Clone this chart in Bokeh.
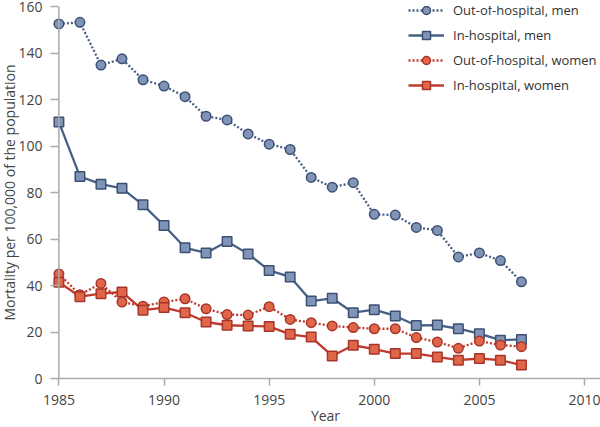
from bokeh.plotting import figure
from bokeh.models import Range1d, SingleIntervalTicker, Legend, LegendItem, Span, Title
from bokeh.embed import file_html
from bokeh.resources import INLINE

years = list(range(1985, 2008))
out_men = [152.5, 153.2, 134.8, 137.5, 128.5, 125.8, 121.2, 112.8, 111.2, 105.2, 100.8, 98.5,
           86.5, 82.3, 84.2, 70.6, 70.3, 65.0, 63.7, 52.3, 54.0, 50.7, 41.6]
in_men = [110.3, 86.9, 83.6, 81.8, 74.7, 65.8, 56.2, 54.0, 58.9, 53.6, 46.5, 43.7,
          33.3, 34.5, 28.3, 29.6, 26.9, 22.8, 23.0, 21.4, 19.3, 16.5, 16.8]
out_women = [45.0, 36.0, 40.9, 32.9, 31.1, 32.9, 34.3, 30.0, 27.5, 27.3, 30.9, 25.4,
             24.0, 22.6, 21.9, 21.4, 21.4, 17.6, 15.7, 13.0, 16.1, 14.4, 13.7]
in_women = [41.4, 35.2, 36.5, 37.2, 29.4, 30.5, 28.3, 24.3, 22.9, 22.6, 22.4, 19.0,
            17.8, 9.7, 14.3, 12.6, 10.7, 10.7, 9.3, 7.9, 8.6, 7.9, 5.8]
labels = ["Out-of-hospital, men", "In-hospital, men", "Out-of-hospital, women", "In-hospital, women"]
x_title = "Year"
y_title = "Mortality per 100,000 of the population"

FONT = "Open Sans"
TXT = "#444444"
MEN_LINE = "#465f84"
MEN_FILL = "#8094b7"
MEN_EDGE = "#3b5073"
W_LINE = "#c0392b"
W_FILL = "#e0664a"
W_EDGE = "#a8352a"
AX = "#aaaaaa"

X0 = 1984.6
p = figure(width=600, height=427, output_backend="svg", toolbar_location=None,
           x_range=Range1d(X0, 2010.76), y_range=Range1d(0, 160),
           min_border_left=50, min_border_right=0, min_border_top=6, min_border_bottom=48)
p.outline_line_color = None
p.grid.grid_line_color = None
p.background_fill_color = "white"

# y axis line at 1985
p.add_layout(Span(location=1985, dimension="height", line_color=AX, line_width=1.5))

series = [
    (out_men, MEN_LINE, MEN_FILL, MEN_EDGE, "2 2", "circle"),
    (in_men, MEN_LINE, MEN_FILL, MEN_EDGE, "solid", "square"),
    (out_women, W_LINE, W_FILL, W_EDGE, "2 2", "circle"),
    (in_women, W_LINE, W_FILL, W_EDGE, "solid", "square"),
]
items = []
for (vals, lc, fc, ec, dash, mk), lab in zip(series, labels):
    r1 = p.line(years, vals, line_color=lc, line_width=2.3, line_dash=dash)
    r2 = p.scatter(years, vals, marker=mk, size=9.5,
                   fill_color=fc, line_color=ec, line_width=1.5)
    items.append(LegendItem(label=lab, renderers=[r1, r2]))

legend = Legend(items=items, location=(358, 283), margin=0, padding=0,
                glyph_width=36, glyph_height=20, label_height=20, spacing=5,
                label_standoff=9, label_text_font=FONT, label_text_font_size="13px",
                label_text_color="#333333", border_line_color=None,
                background_fill_alpha=0)
p.add_layout(legend)

for ax in (p.xaxis[0], p.yaxis[0]):
    ax.axis_line_color = AX
    ax.axis_line_width = 1.5
    ax.major_tick_line_color = AX
    ax.major_tick_line_width = 1.5
    ax.minor_tick_line_color = None
    ax.major_label_text_font = FONT
    ax.major_label_text_font_size = "14px"
    ax.major_label_text_color = TXT
    ax.axis_label_text_font = FONT
    ax.axis_label_text_font_style = "normal"
    ax.axis_label_text_color = TXT

p.xaxis[0].ticker = SingleIntervalTicker(interval=5)
p.xaxis[0].bounds = (1985, 2010.76)
p.xaxis[0].major_tick_out = 7
p.xaxis[0].major_tick_in = 0
p.xaxis[0].major_label_standoff = 9
p.xaxis[0].axis_label = x_title
p.xaxis[0].axis_label_text_font_size = "14px"
p.xaxis[0].axis_label_standoff = -2

p.yaxis[0].ticker = SingleIntervalTicker(interval=20)
p.yaxis[0].axis_line_color = None
p.yaxis[0].major_tick_out = 0
p.yaxis[0].major_tick_in = 8
p.yaxis[0].major_label_standoff = 4

p.add_layout(Title(text=y_title, align="center", text_font=FONT, text_font_size="14px",
                   text_font_style="normal", text_color=TXT, standoff=-6), "left")

open("out.html", "w").write(file_html(p, INLINE))
